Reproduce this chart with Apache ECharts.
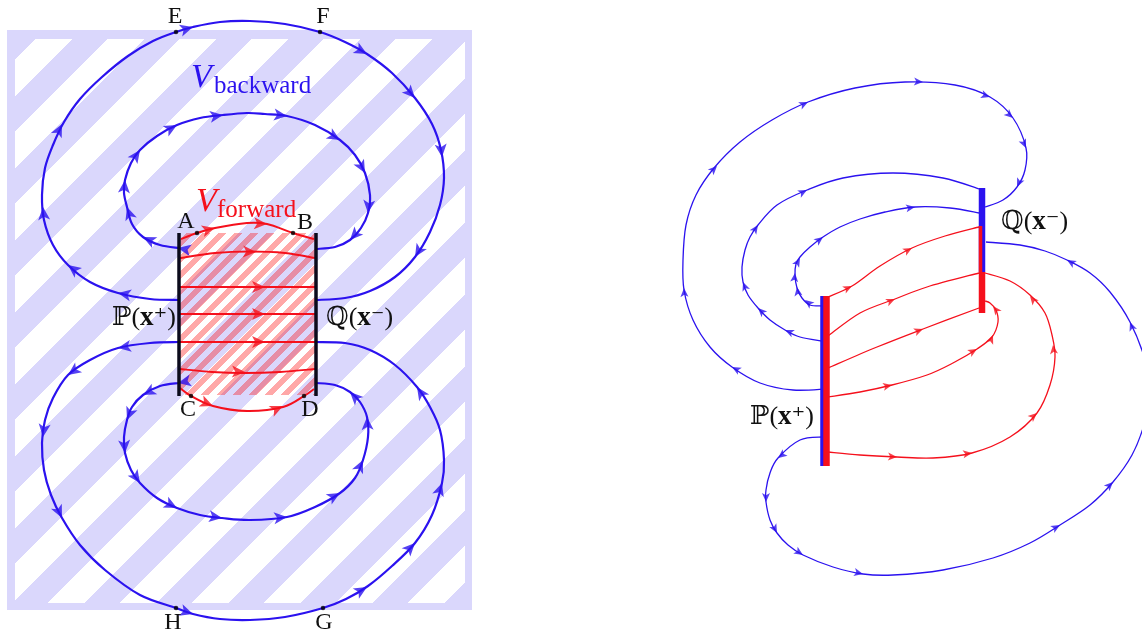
<!DOCTYPE html>
<html>
<head>
<meta charset="utf-8">
<script src="https://cdn.jsdelivr.net/npm/echarts@6/dist/echarts.min.js"></script>
<style>
  html, body { margin: 0; padding: 0; background: #fff; }
  #chart { width: 1142px; height: 635px; }
</style>
</head>
<body>
<div id="chart"></div>
<script>
// Page coordinates are used as data coordinates (x right, y down)

// ---- left panel: regions [x0, y0, x1, y1]
const backwardFrame = [7, 30, 472, 610];
const backwardHatch = [15, 39, 465, 603];
const forwardBox = [180, 233, 315, 395];

// ---- left panel: blue flow lines
const outerTop = [[179,300],[150,299],[118,293],[90,282],[68,265],[53,245],[44,220],[42,195],[45,168],[53,145],[64,122],[80,99],[102,77],[128,56],[153,41],[176,32],[193,27],[220,22],[250,21],[285,24],[320,32],[345,42],[367,54],[392,73],[415,98],[432,124],[441,150],[444,178],[440,205],[430,232],[415,257],[395,277],[370,291],[345,298],[316,300]];
const outerTopArrows = [[118,293],[68,265],[43,207],[62,124],[193,27],[367,54],[415,98],[442,157],[415,257]];

const innerTop = [[179,248],[160,245],[143,237],[132,224],[127,207],[124,193],[125,180],[131,163],[140,150],[157,136],[177,125],[200,118],[223,115],[247,113],[265,114],[287,116],[315,125],[340,140],[355,155],[365,173],[370,195],[368,213],[361,228],[350,240],[335,247],[316,249]];
const innerTopArrows = [[178,248],[143,237],[127,207],[125,180],[140,150],[177,125],[223,115],[287,116],[340,140],[365,173],[368,213],[350,240]];

const outerBottom = [[179,342],[150,343],[118,348],[90,360],[68,375],[53,398],[45,420],[42,443],[44,470],[51,495],[62,518],[80,545],[105,570],[140,595],[176,608],[193,614],[220,619],[250,620],[285,617],[323,608],[346,599],[368,586],[392,566],[415,543],[432,515],[442,483],[444,460],[440,430],[430,407],[417,387],[395,365],[370,350],[345,343],[316,342]];
const outerBottomArrows = [[118,348],[68,375],[43,437],[62,518],[193,614],[367,587],[415,543],[442,483],[417,387]];

const innerBottom = [[179,383],[160,386],[143,395],[132,407],[127,420],[124,437],[125,453],[131,470],[140,483],[157,498],[177,508],[200,515],[222,518],[250,520],[287,517],[315,507],[340,493],[355,478],[363,460],[368,437],[367,417],[360,402],[350,392],[335,385],[316,383]];
const innerBottomArrows = [[178,383],[143,395],[127,420],[125,453],[140,483],[177,508],[222,518],[287,517],[340,493],[363,460],[367,417],[350,392]];

// ---- left panel: red flow lines
const fwdAB = [[181,239],[197,233],[215,228],[247,223],[267,224],[293,233],[314,239]];
const fwdABArrows = [[215,228],[267,224]];
const fwd2 = [[180,258],[215,253],[250,251.5],[285,253],[315,258]];
const fwd2Arrows = [[256,252]];
const fwd3 = [[180,287],[315,287]];
const fwd3Arrows = [[265,287]];
const fwd4 = [[180,314],[315,314]];
const fwd4Arrows = [[265,314]];
const fwd5 = [[180,342],[315,342]];
const fwd5Arrows = [[265,342]];
const fwd6 = [[180,369],[212,372],[245,373],[280,372],[315,369]];
const fwd6Arrows = [[245,372]];
const fwdCD = [[180,388],[191,396],[213,406],[247,411],[283,407],[304,396],[314,389]];
const fwdCDArrows = [[213,406],[283,406]];

// ---- left panel: boundary bars [x, yTop, yBottom]
const leftBars = [[179,233,396],[316,233,396]];

// ---- left panel: marked points
const pointNames = ['A','B','C','D','E','F','G','H'];
const pointCoords = [[197,233],[293,233],[191,396],[304,396],[176,32],[320,32],[323,608],[176,608]];
const pointLabelAt = [[186,222],[305,223],[188,410],[310,410],[175,17],[323,17],[324,623],[173,623]];

// ---- right panel: blue flow lines
const rOuter = [[826,389],[793,390],[760,383],[732,367],[710,347],[693,320],[684,290],[683,260],[686,225],[696,195],[714,168],[740,142],[772,120],[808,102],[855,88],[905,82],[955,85],[990,97],[1013,118],[1026,148],[1025,170],[1017,187],[1003,200],[985,207]];
const rOuterArrows = [[732,367],[684,288],[717,166],[808,102],[923,82],[990,97],[1013,118],[1026,148],[1017,187]];
const rMiddle = [[822,341],[800,337],[785,330],[770,320],[758,308],[748,295],[743,282],[742,267],[745,250],[750,237],[758,225],[777,205],[807,190],[843,178],[893,173],[943,178],[979,189]];
const rMiddleArrows = [[785,330],[758,308],[743,282],[758,225],[807,190]];
const rInner = [[822,306],[810,305],[802,298],[797,288],[795,275],[796,264],[800,257],[810,247],[823,237],[840,227],[860,219],[885,212],[915,207],[950,208],[979,213]];
const rInnerArrows = [[805,300],[797,287],[795,273],[800,258],[823,237],[915,207]];
const rAround = [[823,437],[800,440],[778,458],[770,473],[766,490],[766,502],[770,520],[777,533],[788,545],[803,555],[833,567],[863,574],[893,575],[943,570],[993,558],[1030,543],[1060,525],[1090,505],[1113,482],[1132,455],[1144,425],[1150,395],[1145,360],[1130,322],[1110,292],[1090,273],[1067,260],[1045,251],[1020,245],[986,242]];
const rAroundArrows = [[778,458],[766,502],[777,533],[803,555],[863,574],[1060,525],[1113,482],[1130,322],[1067,260]];

// ---- right panel: red flow lines
const rRed1 = [[828,297],[852,286],[880,266],[912,248],[945,236],[979,227]];
const rRed1Arrows = [[852,286],[912,248]];
const rRed2 = [[828,336],[860,313],[895,299],[927,287],[979,273]];
const rRed2Arrows = [[895,299]];
const rRed3 = [[828,368],[877,347],[923,329],[979,308]];
const rRed3Arrows = [[923,329]];
const rRed4 = [[828,397],[860,392],[892,385],[927,375],[953,363],[977,349],[992,337],[998,322],[996,310],[990,303],[985,301]];
const rRed4Arrows = [[892,385],[977,349],[993,335],[993,306]];
const rRed5 = [[828,452],[860,455],[897,457],[933,458],[972,453],[1010,437],[1037,413],[1050,385],[1055,357],[1052,335],[1045,313],[1030,295],[1010,281],[985,273]];
const rRed5Arrows = [[897,457],[972,453],[1037,413],[1053,345],[1030,296]];

// ---- right panel: bars [x, yTop, yBottom]
const rightBlueBars = [[823.5,296,466],[982,188,272]];
const rightRedBars = [[826.5,296,466],[980.5,226,272],[982,272,313]];

// ---- text
const setLabelText = ['ℙ(x⁺)','ℚ(x⁻)','ℚ(x⁻)','ℙ(x⁺)'];
const setLabelAt = [[176,318],[326,318],[1001,222],[814,417]];
const setLabelAlign = ['right','left','left','right'];
const vSubText = ['backward','forward'];
const vLabelAt = [[191,78],[196,202]];

const BLUE = '#2b12ef';
const RED = '#f5101c';
const LAVENDER = '#dad7fc';
const SERIF = "'Liberation Serif', 'DejaVu Serif', serif";

// Diagonal stripe tile: pixel (x, y) is painted when (x + y - phase) mod size < band
function stripeTile(size, band, phase, bg, fg) {
    const c = document.createElement('canvas');
    c.width = c.height = size;
    const ctx = c.getContext('2d');
    if (bg) {
        ctx.fillStyle = bg;
        ctx.fillRect(0, 0, size, size);
    }
    ctx.fillStyle = fg;
    for (let y = 0; y < size; y++) {
        for (let x = 0; x < size; x++) {
            const t = (((x + y - phase) % size) + size) % size;
            if (t < band) ctx.fillRect(x, y, 1, 1);
        }
    }
    return c;
}

const regionFills = [
    LAVENDER,
    { image: stripeTile(72, 37, 74, LAVENDER, '#ffffff'), repeat: 'repeat' },
    { image: stripeTile(16, 8, 3, null, 'rgba(255,0,0,0.34)'), repeat: 'repeat' }
];

// Heading of the curve nearest to a point, as an ECharts symbolRotate
function arrowRotate(curve, pt) {
    let best = 0, bestD = Infinity;
    for (let i = 0; i < curve.length - 1; i++) {
        const [ax, ay] = curve[i], [bx, by] = curve[i + 1];
        const vx = bx - ax, vy = by - ay;
        const len2 = vx * vx + vy * vy || 1;
        let t = ((pt[0] - ax) * vx + (pt[1] - ay) * vy) / len2;
        t = Math.max(0, Math.min(1, t));
        const dx = ax + t * vx - pt[0], dy = ay + t * vy - pt[1];
        const d = dx * dx + dy * dy;
        if (d < bestD) { bestD = d; best = i; }
    }
    const a = curve[Math.max(best - 1, 0)], b = curve[Math.min(best + 2, curve.length - 1)];
    const c = curve[best], d = curve[best + 1];
    const hx = 2 * (d[0] - c[0]) + (b[0] - a[0]) / 3, hy = 2 * (d[1] - c[1]) + (b[1] - a[1]) / 3;
    return Math.atan2(-hx, -hy) * 180 / Math.PI;
}

// Catmull-Rom curve through pixel points, as SVG path data
function throughPath(pts) {
    let d = `M${pts[0][0]},${pts[0][1]}`;
    for (let i = 0; i < pts.length - 1; i++) {
        const p0 = pts[Math.max(i - 1, 0)], p1 = pts[i], p2 = pts[i + 1], p3 = pts[Math.min(i + 2, pts.length - 1)];
        const c1 = [p1[0] + (p2[0] - p0[0]) / 6, p1[1] + (p2[1] - p0[1]) / 6];
        const c2 = [p2[0] - (p3[0] - p1[0]) / 6, p2[1] - (p3[1] - p1[1]) / 6];
        d += ` C${c1[0]},${c1[1]} ${c2[0]},${c2[1]} ${p2[0]},${p2[1]}`;
    }
    return d;
}

const leftBlue = [[outerTop, outerTopArrows], [innerTop, innerTopArrows], [outerBottom, outerBottomArrows], [innerBottom, innerBottomArrows]];
const leftRed = [[fwdAB, fwdABArrows], [fwd2, fwd2Arrows], [fwd3, fwd3Arrows], [fwd4, fwd4Arrows], [fwd5, fwd5Arrows], [fwd6, fwd6Arrows], [fwdCD, fwdCDArrows]];
const rightBlue = [[rOuter, rOuterArrows], [rMiddle, rMiddleArrows], [rInner, rInnerArrows], [rAround, rAroundArrows]];
const rightRed = [[rRed1, rRed1Arrows], [rRed2, rRed2Arrows], [rRed3, rRed3Arrows], [rRed4, rRed4Arrows], [rRed5, rRed5Arrows]];

function flowSeries(group, color, width, arrowSize, z) {
    const curves = group.map(g => g[0]);
    return [
        {
            type: 'custom',
            data: curves.map(c => c[0]),
            z,
            renderItem: (params, api) => {
                const pts = curves[params.dataIndex].map(p => api.coord(p));
                return {
                    type: 'path',
                    shape: { pathData: throughPath(pts) },
                    style: { fill: 'none', stroke: color, lineWidth: width }
                };
            }
        },
        {
            type: 'scatter',
            data: group.flatMap(([curve, arrows]) =>
                arrows.map(p => ({ value: p, symbolRotate: arrowRotate(curve, p) }))),
            symbol: 'arrow',
            symbolSize: arrowSize,
            itemStyle: { color },
            z: z + 1
        }
    ];
}

function barSeries(bars, color, width, z) {
    return bars.map(([x, y0, y1]) => ({
        type: 'line',
        data: [[x, y0], [x, y1]],
        symbol: 'none',
        lineStyle: { color, width, cap: 'butt' },
        z
    }));
}

const chart = echarts.init(document.getElementById('chart'), null, { renderer: 'canvas' });

const option = {
    animation: false,
    backgroundColor: '#ffffff',
    grid: { left: 0, right: 0, top: 0, bottom: 0 },
    xAxis: { type: 'value', min: 0, max: 1142, show: false },
    yAxis: { type: 'value', min: 0, max: 635, inverse: true, show: false },
    series: [
        // hatched regions
        {
            type: 'custom',
            data: [backwardFrame, backwardHatch, forwardBox],
            z: 1,
            renderItem: (params, api) => {
                const p0 = api.coord([api.value(0), api.value(1)]);
                const p1 = api.coord([api.value(2), api.value(3)]);
                return {
                    type: 'rect',
                    z2: params.dataIndex,
                    shape: { x: p0[0], y: p0[1], width: p1[0] - p0[0], height: p1[1] - p0[1] },
                    style: { fill: regionFills[params.dataIndex] }
                };
            }
        },
        ...flowSeries(leftBlue, BLUE, 2.2, [9, 13], 3),
        ...flowSeries(leftRed, RED, 2, [9, 13], 6),
        ...barSeries(leftBars, '#0b0b1c', 3.5, 8),
        ...flowSeries(rightBlue, BLUE, 1.3, [6, 9], 3),
        ...flowSeries(rightRed, RED, 1.3, [6, 9], 5),
        ...barSeries(rightBlueBars, BLUE, 6.5, 8),
        ...barSeries(rightRedBars, RED, 6.5, 9).map((s, i) => (i === 1 ? { ...s, lineStyle: { ...s.lineStyle, width: 3.5 } } : s)),
        // marked points A..H
        {
            type: 'scatter',
            data: pointCoords,
            symbol: 'circle',
            symbolSize: 4.5,
            itemStyle: { color: '#000' },
            z: 10
        },
        // text
        {
            type: 'custom',
            data: pointLabelAt,
            z: 11,
            renderItem: (params, api) => {
                const p = api.coord([api.value(0), api.value(1)]);
                return {
                    type: 'text',
                    x: p[0], y: p[1],
                    style: {
                        text: pointNames[params.dataIndex],
                        fontFamily: SERIF, fontSize: 24,
                        fill: '#111', align: 'center', verticalAlign: 'middle'
                    }
                };
            }
        },
        {
            type: 'custom',
            data: setLabelAt,
            z: 11,
            renderItem: (params, api) => {
                const p = api.coord([api.value(0), api.value(1)]);
                const t = setLabelText[params.dataIndex];
                return {
                    type: 'text',
                    x: p[0], y: p[1],
                    style: {
                        text: `{n|${t.slice(0, 2)}}{b|x}{s|${t.slice(3)}}`,
                        align: setLabelAlign[params.dataIndex],
                        verticalAlign: 'middle',
                        fill: '#111',
                        rich: {
                            n: { fontFamily: SERIF, fontSize: 26, fill: '#111' },
                            b: { fontFamily: SERIF, fontSize: 27, fontWeight: 'bold', fill: '#111' },
                            s: { fontFamily: SERIF, fontSize: 26, fill: '#111' }
                        }
                    }
                };
            }
        },
        {
            type: 'custom',
            data: vLabelAt,
            z: 11,
            renderItem: (params, api) => {
                const p = api.coord([api.value(0), api.value(1)]);
                const color = params.dataIndex === 0 ? BLUE : RED;
                return {
                    type: 'group',
                    children: [
                        {
                            type: 'text', x: p[0], y: p[1],
                            style: {
                                text: 'V', fontFamily: SERIF, fontSize: 34, fontStyle: 'italic',
                                fill: color, align: 'left', verticalAlign: 'middle'
                            }
                        },
                        {
                            type: 'text', x: p[0] + (params.dataIndex === 0 ? 23 : 21), y: p[1] + 8,
                            style: {
                                text: vSubText[params.dataIndex], fontFamily: SERIF, fontSize: 25,
                                fill: color, align: 'left', verticalAlign: 'middle'
                            }
                        }
                    ]
                };
            }
        }
    ]
};

chart.setOption(option);
</script>
</body>
</html>
